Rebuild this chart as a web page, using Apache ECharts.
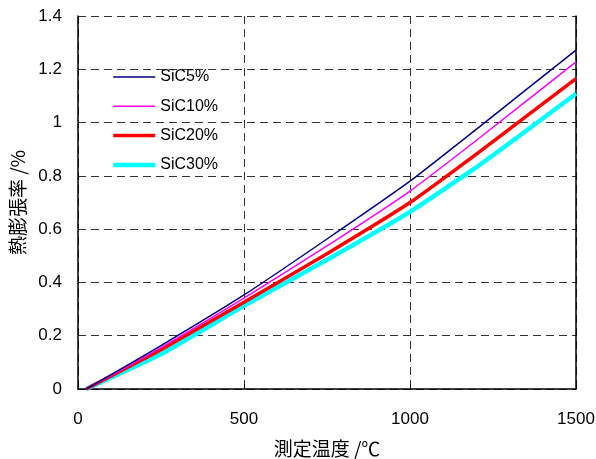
<!DOCTYPE html>
<html><head><meta charset="utf-8">
<script src="https://cdn.jsdelivr.net/npm/echarts@6/dist/echarts.min.js"></script>
<style>html,body{margin:0;padding:0;background:#fff}#c{width:596px;height:459px}</style>
</head><body><div id="c"></div>
<script>
const temps = [25, 250, 500, 750, 1000, 1210, 1500];
const sic5  = [0, 0.163, 0.353, 0.563, 0.780, 0.985, 1.272];
const sic10 = [0, 0.155, 0.341, 0.537, 0.743, 0.943, 1.228];
const sic20 = [0, 0.147, 0.326, 0.508, 0.700, 0.891, 1.165];
const sic30 = [0, 0.131, 0.312, 0.485, 0.665, 0.841, 1.108];
const names = ['SiC5%', 'SiC10%', 'SiC20%', 'SiC30%'];
const colors = ['#000080', '#ff00ff', '#ff0000', '#00ffff'];
const widths = [1.5, 1.5, 3.5, 4.5];
const seriesData = [sic5, sic10, sic20, sic30];
const font = "'Liberation Sans', 'Noto Sans CJK JP', sans-serif";
const cjk = "'Noto Sans CJK JP', 'Liberation Sans', sans-serif";

const chart = echarts.init(document.getElementById('c'));
chart.setOption({
  animation: false,
  backgroundColor: '#fff',
  textStyle: {fontFamily: font},
  grid: {left: 78, right: 20, top: 16, bottom: 70, containLabel: false, outerBoundsMode: 'none'},
  legend: {
    left: 106, top: 64, orient: 'vertical', itemGap: 13.3, itemWidth: 42, itemHeight: 16,
    data: names.map((n, i) => ({name: n, lineStyle: {width: widths[i], color: colors[i]}})),
    itemStyle: {opacity: 0},
    textStyle: {fontSize: 16, color: '#000', fontFamily: font}
  },
  xAxis: {
    type: 'value', min: 0, max: 1500, interval: 500,
    name: '測定温度 /℃', nameLocation: 'middle', nameGap: 50,
    nameTextStyle: {fontSize: 19, color: '#000', fontFamily: cjk},
    axisLine: {lineStyle: {color: '#000', width: 1.5}},
    axisTick: {inside: true, length: 5, lineStyle: {color: '#000'}},
    axisLabel: {fontSize: 17, color: '#000', margin: 22, formatter: v => String(v)},
    splitLine: {lineStyle: {color: '#333', type: [8, 5], width: 1}}
  },
  yAxis: [{
    type: 'value', min: 0, max: 1.4, interval: 0.2,
    name: '熱膨張率 /%', nameLocation: 'middle', nameGap: 47,
    nameTextStyle: {fontSize: 19, color: '#000', fontFamily: cjk},
    axisLine: {show: true, lineStyle: {color: '#000', width: 1.5}},
    axisTick: {show: false},
    axisLabel: {fontSize: 17, color: '#000', margin: 16, padding: [8, 0, 0, 0],
      formatter: v => String(Math.round(v * 10) / 10)},
    splitLine: {lineStyle: {color: '#333', type: [8, 5], width: 1}}
  }, {
    type: 'value', min: 0, max: 1.4, position: 'right',
    axisLine: {show: true, lineStyle: {color: '#000', width: 1.5}},
    axisTick: {show: false}, axisLabel: {show: false}, splitLine: {show: false}
  }],
  series: seriesData.map((d, i) => ({
    name: names[i], type: 'line', symbol: 'none', smooth: 0.15,
    data: temps.map((t, j) => [t, d[j]]),
    lineStyle: {color: colors[i], width: widths[i]},
    itemStyle: {color: colors[i]},
    z: 10 - i
  }))
});
</script></body></html>
